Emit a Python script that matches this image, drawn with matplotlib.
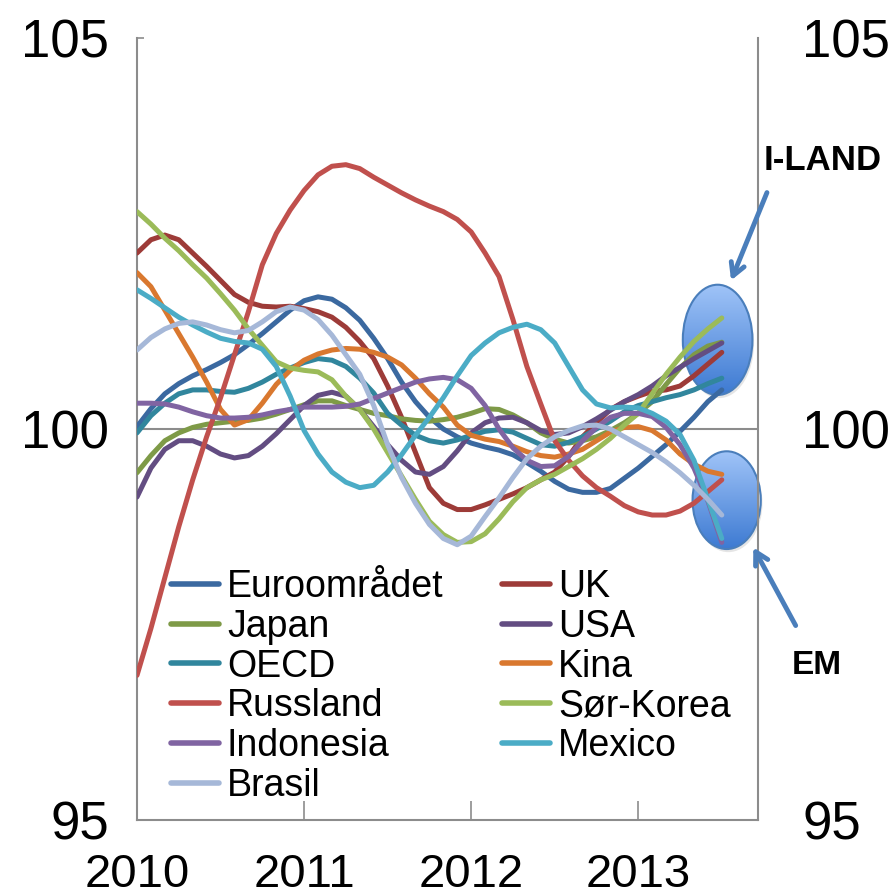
import numpy as np
import matplotlib
matplotlib.use("Agg")
import matplotlib.pyplot as plt
from matplotlib.patches import Ellipse
from matplotlib.colors import LinearSegmentedColormap

plt.rcParams['font.family'] = ['Liberation Sans', 'DejaVu Sans']

# monthly index, Jan 2010 .. Jul 2013
months = np.arange(43)
year_ticks = [0, 12, 24, 36]
year_labels = ['2010', '2011', '2012', '2013']

euro = [100.03, 100.26, 100.45, 100.58, 100.68, 100.76, 100.85, 100.95, 101.08, 101.22,
        101.37, 101.52, 101.64, 101.69, 101.66, 101.55, 101.39, 101.16, 100.9, 100.6,
        100.35, 100.15, 100.0, 99.9, 99.82, 99.77, 99.73, 99.67, 99.57, 99.46,
        99.33, 99.23, 99.19, 99.19, 99.24, 99.37, 99.5, 99.65, 99.8, 99.97,
        100.15, 100.35, 100.5]
uk = [102.25, 102.42, 102.48, 102.42, 102.25, 102.08, 101.9, 101.72, 101.62, 101.57,
      101.56, 101.57, 101.54, 101.5, 101.43, 101.3, 101.12, 100.9, 100.55, 100.15,
      99.7, 99.25, 99.05, 98.97, 98.97, 99.03, 99.1, 99.17, 99.25, 99.35,
      99.45, 99.65, 99.9, 100.08, 100.25, 100.35, 100.42, 100.48, 100.5, 100.55,
      100.68, 100.83, 100.98]
japan = [99.44, 99.66, 99.85, 99.95, 100.02, 100.06, 100.08, 100.1, 100.11, 100.14,
         100.19, 100.25, 100.31, 100.36, 100.36, 100.3, 100.25, 100.2, 100.17, 100.13,
         100.11, 100.1, 100.12, 100.15, 100.2, 100.26, 100.25, 100.18, 100.08, 99.95,
         99.87, 99.82, 99.85, 99.9, 99.98, 100.08, 100.2, 100.35, 100.57, 100.78,
         100.95, 101.06, 101.11]
usa = [99.13, 99.5, 99.74, 99.85, 99.85, 99.78, 99.68, 99.63, 99.66, 99.78,
       99.94, 100.12, 100.3, 100.43, 100.47, 100.42, 100.25, 100.03, 99.8, 99.6,
       99.45, 99.42, 99.52, 99.72, 99.95, 100.08, 100.14, 100.15, 100.08, 99.98,
       99.93, 99.95, 100.03, 100.13, 100.24, 100.35, 100.44, 100.55, 100.68, 100.79,
       100.9, 101.0, 101.1]
oecd = [99.95, 100.17, 100.33, 100.45, 100.5, 100.5, 100.48, 100.47, 100.52, 100.6,
        100.7, 100.78, 100.85, 100.9, 100.88, 100.8, 100.65, 100.46, 100.2, 100.05,
        99.92, 99.85, 99.82, 99.86, 99.92, 99.97, 99.99, 99.96, 99.88, 99.8,
        99.78, 99.83, 99.9, 100.0, 100.1, 100.22, 100.3, 100.35, 100.4, 100.44,
        100.5, 100.58, 100.65]
kina = [102.0, 101.82, 101.52, 101.22, 100.92, 100.6, 100.25, 100.05, 100.12, 100.33,
        100.57, 100.75, 100.88, 100.96, 101.01, 101.03, 101.02, 100.98, 100.92, 100.82,
        100.65, 100.45, 100.28, 100.05, 99.92, 99.87, 99.84, 99.78, 99.71, 99.66,
        99.64, 99.68, 99.74, 99.85, 99.96, 100.02, 100.03, 99.98, 99.86, 99.68,
        99.55, 99.46, 99.42]
russland = [96.85, 97.45, 98.1, 98.75, 99.35, 99.9, 100.4, 100.95, 101.5, 102.1,
            102.5, 102.8, 103.05, 103.25, 103.36, 103.38, 103.33, 103.22, 103.12, 103.02,
            102.93, 102.85, 102.78, 102.68, 102.52, 102.25, 101.95, 101.4, 100.8, 100.32,
            99.85, 99.6, 99.4, 99.25, 99.14, 99.02, 98.94, 98.9, 98.9, 98.95,
            99.05, 99.2, 99.35]
korea = [102.78, 102.62, 102.44, 102.28, 102.1, 101.93, 101.73, 101.52, 101.28, 101.07,
         100.86, 100.78, 100.75, 100.73, 100.63, 100.42, 100.25, 100.0, 99.7, 99.4,
         99.1, 98.82, 98.65, 98.55, 98.56, 98.66, 98.85, 99.07, 99.25, 99.35,
         99.42, 99.52, 99.62, 99.74, 99.88, 100.05, 100.2, 100.45, 100.7, 100.92,
         101.12, 101.28, 101.42]
indonesia = [100.33, 100.33, 100.32, 100.28, 100.22, 100.17, 100.14, 100.14, 100.15, 100.18,
             100.22, 100.25, 100.28, 100.28, 100.28, 100.29, 100.32, 100.39, 100.46, 100.53,
             100.6, 100.64, 100.66, 100.63, 100.52, 100.3, 100.0, 99.76, 99.6, 99.52,
             99.53, 99.65, 99.85, 100.02, 100.15, 100.2, 100.2, 100.16, 100.02, 99.8,
             99.5, 99.08, 98.55]
mexico = [101.78, 101.67, 101.55, 101.43, 101.33, 101.24, 101.16, 101.12, 101.1, 101.02,
          100.8, 100.42, 99.98, 99.68, 99.45, 99.32, 99.25, 99.28, 99.45, 99.67,
          99.92, 100.15, 100.4, 100.68, 100.94, 101.1, 101.23, 101.3, 101.34, 101.27,
          101.1, 100.8, 100.5, 100.32, 100.27, 100.28, 100.27, 100.2, 100.1, 99.93,
          99.6, 99.1, 98.6]
brasil = [101.01, 101.17, 101.28, 101.35, 101.37, 101.33, 101.27, 101.23, 101.26, 101.37,
          101.5, 101.56, 101.52, 101.4, 101.2, 100.95, 100.7, 100.3, 99.8, 99.38,
          99.05, 98.78, 98.6, 98.52, 98.63, 98.88, 99.12, 99.38, 99.62, 99.78,
          99.9, 99.98, 100.04, 100.05, 100.0, 99.9, 99.8, 99.7, 99.58, 99.44,
          99.28, 99.1, 98.9]

names = ['Euroområdet', 'UK', 'Japan', 'USA', 'OECD', 'Kina', 'Russland',
         'Sør-Korea', 'Indonesia', 'Mexico', 'Brasil']
series = [euro, uk, japan, usa, oecd, kina, russland, korea, indonesia, mexico, brasil]
colors = ['#3B69A0', '#9D3B38', '#7E9A47', '#634D82', '#31869D', '#D9782F',
          '#C0504D', '#9BBB59', '#8064A2', '#4BACC6', '#A6B8D8']

W, H = 889, 896
fig = plt.figure(figsize=(W / 100, H / 100), dpi=100)
ax = fig.add_axes([137 / W, 1 - 820 / H, (758 - 137) / W, (820 - 38) / H])

ax.set_xlim(0, 44.6)
ax.set_ylim(95, 105)

# ellipses with a vertical gradient, under the lines
grad = np.linspace(0, 1, 256).reshape(-1, 1)
cm = LinearSegmentedColormap.from_list('bl', ['#3D7AD2', '#A0C4F8'])
for cx, cy, w, h in [(41.7, 101.14, 5.0, 1.41), (42.35, 99.09, 4.9, 1.25)]:
    sh = Ellipse((cx + 0.12, cy - 0.04), w, h, facecolor='#999999', alpha=0.25,
                 edgecolor='none', zorder=1, clip_on=False)
    ax.add_patch(sh)
    e = Ellipse((cx, cy), w, h, facecolor='none', edgecolor='#4A7EBB', lw=1.5,
                zorder=2.5, clip_on=False)
    ax.add_patch(e)
    im = ax.imshow(grad, cmap=cm, origin='lower', aspect='auto',
                   extent=[cx - w / 2, cx + w / 2, cy - h / 2, cy + h / 2], zorder=2)
    im.set_clip_path(e)

ax.axhline(100, color='#8C8C8C', lw=1.5, zorder=1.5)

lines = []
for vals, name, c in zip(series, names, colors):
    ln, = ax.plot(months, vals, color=c, lw=3.6, label=name, zorder=3,
                  solid_capstyle='round')
    lines.append(ln)

ax.spines['top'].set_visible(False)
for s in ['left', 'right', 'bottom']:
    ax.spines[s].set_color('#8C8C8C')
    ax.spines[s].set_linewidth(1.5)

ax.set_xticks(year_ticks)
ax.set_xticklabels(year_labels)
ax.set_yticks([95, 100, 105])
ax.set_yticklabels(['95', '100', '105'])
ax.tick_params(axis='x', direction='in', length=14, width=1.2, color='#8C8C8C',
               labelsize=34, pad=24)
ax.tick_params(axis='y', direction='in', length=5, width=1.2, color='#8C8C8C',
               labelsize=38, pad=20)

ax2 = ax.twinx()
ax2.set_ylim(95, 105)
ax2.set_yticks([95, 100, 105])
ax2.set_yticklabels(['95', '100', '105'])
ax2.tick_params(axis='y', length=0, labelsize=38, pad=32)
for s in ['top', 'left', 'bottom', 'right']:
    ax2.spines[s].set_visible(False)

# legend, filled row-wise like the original
order = [0, 2, 4, 6, 8, 10, 1, 3, 5, 7, 9]
leg = ax.legend([lines[i] for i in order], [names[i] for i in order], ncol=2,
                loc='upper left', bbox_to_anchor=(0.03, 0.34), frameon=False,
                fontsize=27, handlelength=1.3, handletextpad=0.2,
                columnspacing=1.55, labelspacing=0.1, borderaxespad=0)
for lh in leg.get_lines():
    lh.set_linewidth(4)

# annotations
fig.text(823 / W, 1 - 160 / H, 'I-LAND', fontsize=25, fontweight='bold',
         ha='center', va='center')
fig.text(817 / W, 1 - 665 / H, 'EM', fontsize=24, fontweight='bold',
         ha='center', va='center')
arrowprops = dict(arrowstyle='->,head_length=0.9,head_width=0.5', color='#4A7EBB', lw=3.5)
ax.annotate('', xy=(730, H - 283), xycoords='figure pixels',
            xytext=(768, H - 190), textcoords='figure pixels', arrowprops=arrowprops)
ax.annotate('', xy=(752, H - 545), xycoords='figure pixels',
            xytext=(797, H - 628), textcoords='figure pixels', arrowprops=arrowprops)

fig.savefig('out.png', dpi=100)
